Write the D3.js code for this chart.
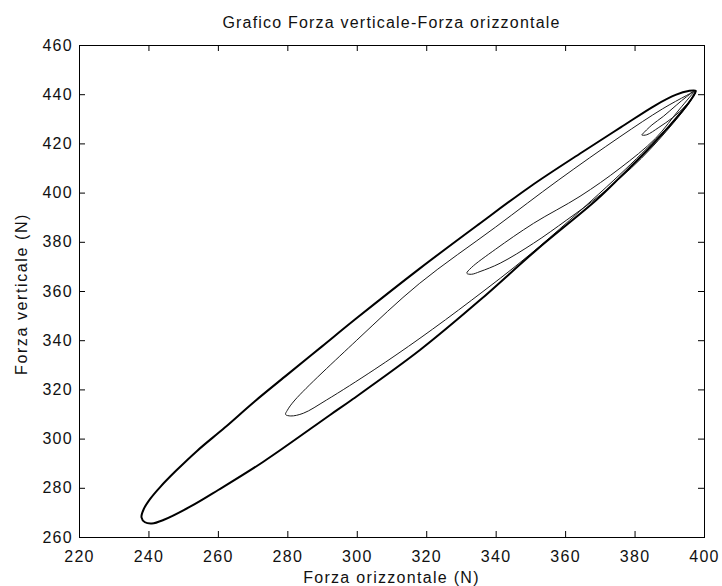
<!DOCTYPE html>
<html>
<head>
<meta charset="utf-8">
<script src="https://cdn.jsdelivr.net/npm/d3@7"></script>
<style>
  body { margin: 0; background: #fff; }
  text { font-family: "Liberation Sans", Arial, sans-serif; fill: #111; }
</style>
</head>
<body>
<div id="chart"></div>
<script>
// tick values
var xTicks = [220, 240, 260, 280, 300, 320, 340, 360, 380, 400];
var yTicks = [260, 280, 300, 320, 340, 360, 380, 400, 420, 440, 460];

// loops: [Forza orizzontale, Forza verticale]
var outerLoop = [
  [397.6, 441.4], [395.5, 441.3], [392, 439.8], [386, 435.5], [376, 426.5],
  [365, 416.5], [350, 402.5], [335, 387], [318, 369], [300, 349], [290, 337.5],
  [280, 326], [270.5, 315], [262, 304.5], [254, 295], [248, 287], [243.5, 280.5],
  [240.5, 275.5], [238.7, 271.5], [238, 268], [239, 266], [241, 265.5],
  [244.3, 266.9], [252, 272.3], [260.1, 279.1], [273.1, 290.6], [292.3, 309.6],
  [298.5, 315.7], [318.2, 336], [335.5, 356.3], [352, 377], [369, 397],
  [376, 406.5], [383.5, 417], [390, 427], [394.5, 434.5], [396.8, 439]
];
var middleLoop = [
  [397.6, 441.4], [395, 439.5], [388, 434], [375.8, 422.7], [358, 405], [340, 386],
  [318, 363], [300, 340], [282.2, 315.7], [280, 311.5], [279.5, 309.8], [281, 309.2],
  [284.6, 310.3], [291.3, 315.7], [305, 328], [318.2, 340.8], [333.1, 356.3],
  [350, 375], [372, 402.4], [385, 420], [393, 432]
];
var innerLoop = [
  [397.6, 441.4], [393, 434], [386, 422], [375.8, 409.9], [364.3, 398.5],
  [350.9, 387.5], [340, 377], [333, 369.5], [331.7, 367.2], [333, 366.8],
  [335.5, 367.9], [341.3, 371.3], [350.9, 379.4], [360.5, 388.9], [370.1, 399],
  [382, 414], [391, 428], [396, 437]
];
var smallLoop = [
  [397.6, 441.4], [395, 439], [392, 435.5], [388.3, 431], [385, 427.5],
  [382.3, 423.8], [382.1, 423.4], [383.5, 423.5], [387, 426.5], [391, 430.5],
  [394.5, 435], [396.8, 438.8]
];

// set the dimensions and margins of the graph
var margin = { top: 45, right: 18, bottom: 49, left: 79 },
  width = 722 - margin.left - margin.right,
  height = 586 - margin.top - margin.bottom;

var svg = d3.select("#chart")
  .append("svg")
  .attr("width", 722)
  .attr("height", 586);

var g = svg.append("g")
  .attr("transform", "translate(" + margin.left + "," + margin.top + ")");

var x = d3.scaleLinear().domain([220, 400]).range([0, width]);
var y = d3.scaleLinear().domain([260, 460]).range([height, 0]);

var line = d3.line()
  .x(function (d) { return x(d[0]); })
  .y(function (d) { return y(d[1]); })
  .curve(d3.curveCatmullRomClosed.alpha(0.5));

// loops
g.append("path").datum(smallLoop).attr("d", line)
  .attr("fill", "none").attr("stroke", "#1a1a1a").attr("stroke-width", 1);
g.append("path").datum(innerLoop).attr("d", line)
  .attr("fill", "none").attr("stroke", "#1a1a1a").attr("stroke-width", 1);
g.append("path").datum(middleLoop).attr("d", line)
  .attr("fill", "none").attr("stroke", "#1a1a1a").attr("stroke-width", 1);
g.append("path").datum(outerLoop).attr("d", line)
  .attr("fill", "none").attr("stroke", "#000").attr("stroke-width", 2);

// axes, ticks pointing inward on all four sides
var tickLen = 6;
function styleAxis(sel) {
  sel.select(".domain").remove();
  sel.selectAll(".tick line").attr("stroke", "#000");
  sel.selectAll(".tick text")
    .style("font-size", "16px")
    .style("letter-spacing", "1.3px")
    .attr("fill", "#111");
}

g.append("g")
  .attr("transform", "translate(0," + height + ")")
  .call(d3.axisBottom(x).tickValues(xTicks).tickFormat(d3.format("d"))
    .tickSizeInner(-tickLen).tickPadding(14))
  .call(styleAxis);

g.append("g")
  .call(d3.axisLeft(y).tickValues(yTicks).tickFormat(d3.format("d"))
    .tickSizeInner(-tickLen).tickPadding(6))
  .call(styleAxis);

g.append("g")
  .call(d3.axisTop(x).tickValues(xTicks).tickSizeInner(-tickLen).tickFormat(""))
  .call(styleAxis);

g.append("g")
  .attr("transform", "translate(" + width + ",0)")
  .call(d3.axisRight(y).tickValues(yTicks).tickSizeInner(-tickLen).tickFormat(""))
  .call(styleAxis);

// box
g.append("rect")
  .attr("x", 0.5).attr("y", 0.5)
  .attr("width", width).attr("height", height)
  .attr("fill", "none").attr("stroke", "#000").attr("stroke-width", 1);

// title
svg.append("text")
  .attr("x", margin.left + width / 2)
  .attr("y", 28)
  .attr("text-anchor", "middle")
  .style("font-size", "16px")
  .style("letter-spacing", "1.2px")
  .text("Grafico Forza verticale-Forza orizzontale");

// x label
svg.append("text")
  .attr("x", margin.left + width / 2)
  .attr("y", 583)
  .attr("text-anchor", "middle")
  .style("font-size", "16px")
  .style("letter-spacing", "1.3px")
  .text("Forza orizzontale (N)");

// y label
svg.append("text")
  .attr("transform", "translate(27," + (margin.top + height / 2 + 3) + ") rotate(-90)")
  .attr("text-anchor", "middle")
  .style("font-size", "16px")
  .style("letter-spacing", "1.6px")
  .text("Forza verticale (N)");
</script>
</body>
</html>
